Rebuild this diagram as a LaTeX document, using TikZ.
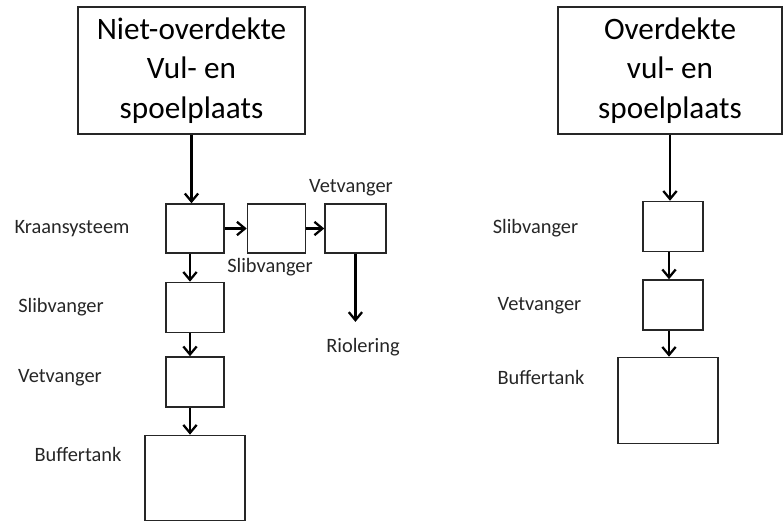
\documentclass[tikz,border=0pt]{standalone}
\usepackage{fontspec}
\setmainfont{Carlito}
\usetikzlibrary{arrows.meta, positioning}

\begin{document}
\begin{tikzpicture}[x=0.75pt, y=-0.75pt]
    % Styles
    \tikzstyle{bigbox} = [rectangle, draw=black!85, line width=1.1pt, align=center, inner sep=0pt, font=\fontsize{23.4}{29.5}\selectfont, minimum height=95.25pt]
    \tikzstyle{unit} = [rectangle, draw=black!85, line width=1.1pt, inner sep=0pt, minimum width=43.5pt, minimum height=37.5pt]
    \tikzstyle{tank} = [rectangle, draw=black!85, line width=1.1pt, inner sep=0pt, minimum width=75pt, minimum height=64pt]
    \tikzstyle{lbl} = [inner sep=0pt, text=black!85, font=\fontsize{15.3}{18}\selectfont]
    \tikzstyle{arrow} = [line width=1.7pt, -{Straight Barb[length=6pt, width=10pt]}]

    \useasboundingbox (0,0) rectangle (784,521);

    % Niet-overdekte plaats
    \node [bigbox, minimum width=170.25pt] (open) at (191.5,70.5) {Niet-overdekte\\Vul- en\\spoelplaats};
    \node [unit, minimum height=36.75pt] (kraan) at (195,228.5) {};
    \node [unit, minimum height=36.75pt, right=16.5pt of kraan] (slibA) {};
    \node [unit, minimum height=36.75pt, minimum width=45.75pt, right=13.5pt of slibA] (vetA) {};
    \node [unit, below=21pt of kraan] (slibB) {};
    \node [unit, below=17.25pt of slibB] (vetB) {};
    \node [tank, below=20.25pt of vetB] (bufA) {};

    % Labels links
    \node [lbl] (kraanL) at (72,229) {Kraansysteem};
    \node [lbl] (vetAL) at (351,188) {Vetvanger};
    \node [lbl] (slibAL) at (270,267) {Slibvanger};
    \node [lbl] (riool) at (363,347) {Riolering};
    \node [lbl] (slibBL) at (61,307) {Slibvanger};
    \node [lbl] (vetBL) at (60,378) {Vetvanger};
    \node [lbl] (bufAL) at (78,454) {Buffertank};

    % Overdekte plaats
    \node [bigbox, minimum width=168pt] (covered) at (670,70.5) {Overdekte\\vul- en\\spoelplaats};
    \node [unit, minimum width=45pt] (slibC) at (673,226.5) {};
    \node [unit, minimum width=45pt, below=20.25pt of slibC] (vetC) {};
    \node [tank, minimum height=64.5pt, below=19.5pt of vetC, xshift=-3.75pt] (bufC) {};

    % Labels rechts
    \node [lbl] (slibCL) at (535.5,228) {Slibvanger};
    \node [lbl] (vetCL) at (539.5,306) {Vetvanger};
    \node [lbl] (bufCL) at (541,377) {Buffertank};

    % Connections
    \draw [arrow] (open.south) -- (open.south |- kraan.north);
    \draw [arrow] (kraan.east) -- (slibA.west);
    \draw [arrow] (slibA.east) -- (vetA.west);
    \draw [arrow, shorten >=12pt] (vetA.south) -- (vetA.south |- riool.north);
    \draw [arrow] ([xshift=-3.75pt]kraan.south) -- ([xshift=-3.75pt]slibB.north);
    \draw [arrow] ([xshift=-3.75pt]slibB.south) -- ([xshift=-3.75pt]vetB.north);
    \draw [arrow] ([xshift=-3.75pt]vetB.south) -- ([xshift=-3.75pt]vetB.south |- bufA.north);

    \draw [arrow] (covered.south) -- (covered.south |- slibC.north);
    \draw [arrow] ([xshift=-3pt]slibC.south) -- ([xshift=-3pt]vetC.north);
    \draw [arrow] ([xshift=-3pt]vetC.south) -- ([xshift=-3pt]vetC.south |- bufC.north);

\end{tikzpicture}
\end{document}
